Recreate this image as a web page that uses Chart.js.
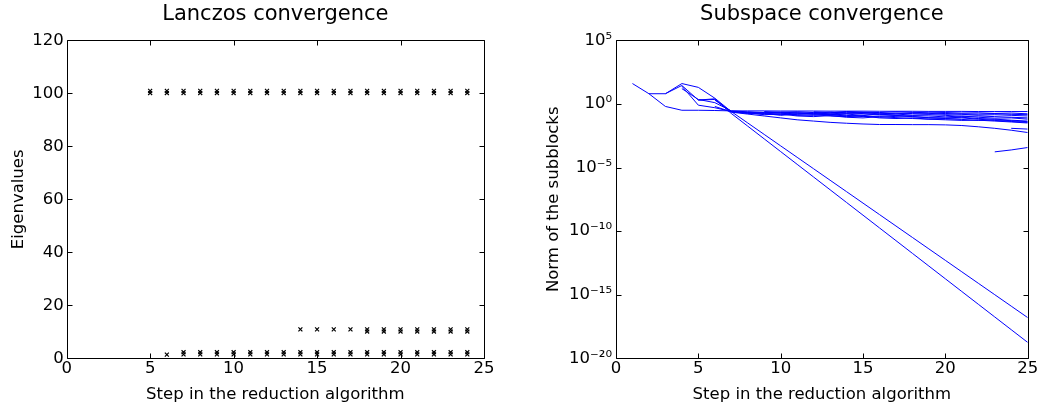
<!DOCTYPE html>
<html>
<head>
<meta charset="utf-8">
<script src="https://cdn.jsdelivr.net/npm/chart.js@4.4.1/dist/chart.umd.min.js"></script>
<style>
    html, body { margin: 0; padding: 0; background: #fff; }
    #wrap { position: relative; width: 1040px; height: 410px; }
    .panel { position: absolute; top: 0; width: 520px; height: 410px; }
</style>
</head>
<body>
<div id="wrap">
    <div class="panel" style="left:0"><canvas id="lanczos"></canvas></div>
    <div class="panel" style="left:520px"><canvas id="subspace"></canvas></div>
</div>
<script>
// --- left plot: eigenvalue estimates (x markers) ---
const highSteps = [5, 6, 7, 8, 9, 10, 11, 12, 13, 14, 15, 16, 17, 18, 19, 20, 21, 22, 23, 24];
const highEigA  = [100.1, 100.1, 100.1, 100.1, 100.1, 100.1, 100.1, 100.1, 100.1, 100.1, 100.1, 100.1, 100.1, 100.1, 100.1, 100.1, 100.1, 100.1, 100.1, 100.1];
const highEigB  = [100.9, 100.9, 100.9, 100.9, 100.9, 100.9, 100.9, 100.9, 100.9, 100.9, 100.9, 100.9, 100.9, 100.9, 100.9, 100.9, 100.9, 100.9, 100.9, 100.9];

const lowSteps = [6, 7, 8, 9, 10, 11, 12, 13, 14, 15, 16, 17, 18, 19, 20, 21, 22, 23, 24];
const lowEigA  = [1.4, 1.5, 1.5, 1.5, 1.5, 1.5, 1.5, 1.5, 1.5, 1.5, 1.5, 1.5, 1.5, 1.5, 1.5, 1.5, 1.5, 1.5, 1.5];
const lowEigB  = [null, 2.3, 2.3, 2.3, 2.3, 2.3, 2.3, 2.3, 2.3, 2.3, 2.3, 2.3, 2.3, 2.3, 2.3, 2.3, 2.3, 2.3, 2.3];

const midSteps = [14, 15, 16, 17, 18, 19, 20, 21, 22, 23, 24];
const midEigA  = [10.9, 10.9, 10.9, 10.9, 10.1, 10.1, 10.1, 10.1, 10.1, 10.1, 10.1];
const midEigB  = [null, null, null, null, 10.9, 10.9, 10.9, 10.9, 10.9, 10.9, 10.9];

const eigTicks = [0, 20, 40, 60, 80, 100, 120];
const stepTicks = [0, 5, 10, 15, 20, 25];

// --- right plot: norm of the subblocks, stored as log10 exponents, steps 1..25 ---
const steps = [1, 2, 3, 4, 5, 6, 7, 8, 9, 10, 11, 12, 13, 14, 15, 16, 17, 18, 19, 20, 21, 22, 23, 24, 25];
const normA = [1.6, 0.8, -0.2, -0.5, -0.5, -0.52, -0.55, -0.55, -0.55, -0.56, -0.56, -0.56, -0.57, -0.57, -0.57, -0.58, -0.58, -0.58, -0.59, -0.59, -0.59, -0.6, -0.6, -0.6, -0.6];
const normB = [null, 0.8, 0.8, 1.6, 1.3, 0.45, -0.6, -1.5, -2.4, -3.3, -4.2, -5.1, -6.0, -6.9, -7.8, -8.7, -9.6, -10.5, -11.4, -12.3, -13.2, -14.1, -15.0, -15.9, -16.8];
const normC = [null, null, 0.8, 1.45, 0.3, 0.4, -0.75, -1.75, -2.75, -3.75, -4.75, -5.75, -6.75, -7.75, -8.75, -9.75, -10.75, -11.75, -12.75, -13.75, -14.75, -15.75, -16.75, -17.75, -18.75];
const normD = [null, null, null, 1.4, -0.1, -0.3, -0.6, -0.72, -0.8, -0.78, -0.85, -0.9, -0.82, -0.9, -1.0, -0.95, -0.92, -1.0, -1.08, -1.1, -1.05, -1.15, -1.2, -1.28, -1.35];
const normE = [null, null, null, 1.2, 0.35, 0.1, -0.55, -0.62, -0.68, -0.7, -0.74, -0.7, -0.78, -0.72, -0.76, -0.84, -0.8, -0.88, -0.85, -0.9, -0.98, -0.95, -1.0, -1.05, -1.1];
const normF = [null, null, null, null, 0.3, 0.35, -0.65, -0.8, -0.95, -1.1, -1.25, -1.35, -1.45, -1.52, -1.58, -1.62, -1.62, -1.63, -1.63, -1.65, -1.7, -1.8, -1.92, -2.07, -2.25];
const normG = [null, null, null, null, null, 0.3, -0.6, -0.68, -0.75, -0.9, -0.8, -0.75, -0.85, -0.95, -0.88, -0.8, -0.9, -1.0, -1.1, -1.15, -1.1, -1.2, -1.3, -1.38, -1.45];
const normH = [null, null, null, null, null, -0.2, -0.62, -0.75, -0.7, -0.65, -0.7, -0.8, -0.72, -0.66, -0.7, -0.78, -0.72, -0.76, -0.8, -0.75, -0.82, -0.88, -0.85, -0.9, -0.95];
const normI = [null, null, null, null, null, null, -0.58, -0.7, -0.85, -0.8, -0.95, -1.0, -0.92, -1.05, -1.1, -1.0, -1.08, -1.15, -1.2, -1.25, -1.3, -1.28, -1.35, -1.42, -1.5];
const normJ = [null, null, null, null, null, null, null, -0.65, -0.72, -0.82, -0.7, -0.78, -0.88, -0.8, -0.9, -1.05, -0.98, -0.92, -0.95, -1.02, -0.95, -1.05, -1.12, -1.1, -1.2];
const normK = [null, null, null, null, null, null, null, null, -0.6, -0.66, -0.62, -0.68, -0.65, -0.75, -0.68, -0.72, -0.78, -0.7, -0.74, -0.82, -0.78, -0.8, -0.76, -0.82, -0.85];
const normL = [null, null, null, null, null, null, null, null, null, -0.7, -0.9, -0.85, -0.95, -1.0, -0.95, -1.1, -1.15, -1.1, -1.2, -1.18, -1.22, -1.3, -1.25, -1.32, -1.4];
const normM = [null, null, null, null, null, null, null, null, null, null, null, -0.62, -0.7, -0.6, -0.65, -0.68, -0.62, -0.66, -0.7, -0.68, -0.72, -0.7, -0.75, -0.72, -0.78];
const normN = [null, null, null, null, null, null, null, null, null, null, null, null, null, null, null, null, null, null, null, null, null, null, null, -1.92, -1.98];
const normO = [null, null, null, null, null, null, null, null, null, null, null, null, null, null, null, null, null, null, null, null, null, null, -3.77, -3.62, -3.43];
const normSeries = [normA, normB, normC, normD, normE, normF, normG, normH, normI, normJ, normK, normL, normM, normN, normO];

const normTickExps = [-20, -15, -10, -5, 0, 5];

// --- helpers ---
const FONT = 'DejaVu Sans';
const SUP = { '-': '\u207B', '0': '\u2070', '1': '\u00B9', '2': '\u00B2', '3': '\u00B3', '4': '\u2074', '5': '\u2075', '6': '\u2076', '7': '\u2077', '8': '\u2078', '9': '\u2079' };
const sup = n => String(n).split('').map(c => SUP[c]).join('');

const toPoints = (xs, ys) => xs.map((x, i) => ({ x, y: ys[i] })).filter(p => p.y !== null);
const toLogPoints = ys => steps.map((x, i) => ({ x, y: ys[i] === null ? null : Math.pow(10, ys[i]) })).filter(p => p.y !== null);

// MATLAB style box with inward ticks
const boxTicks = {
    id: 'boxTicks',
    afterDraw(chart) {
        const { ctx, chartArea: a, scales } = chart;
        const len = 5;
        const L = Math.round(a.left) + 0.5, R = Math.round(a.right) + 0.5;
        const T = Math.round(a.top) + 0.5, B = Math.round(a.bottom) + 0.5;
        ctx.save();
        ctx.strokeStyle = '#000';
        ctx.lineWidth = 1;
        ctx.beginPath();
        ctx.rect(L, T, R - L, B - T);
        scales.x.ticks.forEach(t => {
            const px = Math.round(scales.x.getPixelForValue(t.value)) + 0.5;
            ctx.moveTo(px, B); ctx.lineTo(px, B - len);
            ctx.moveTo(px, T); ctx.lineTo(px, T + len);
        });
        scales.y.ticks.forEach(t => {
            const py = Math.round(scales.y.getPixelForValue(t.value)) + 0.5;
            ctx.moveTo(L, py); ctx.lineTo(L + len, py);
            ctx.moveTo(R, py); ctx.lineTo(R - len, py);
        });
        ctx.stroke();
        ctx.restore();
    }
};

function xAxis() {
    return {
        type: 'linear',
        min: 0, max: 25,
        afterBuildTicks: s => { s.ticks = stepTicks.map(v => ({ value: v })); },
        grid: { drawOnChartArea: false, drawTicks: false },
        border: { display: false },
        ticks: { color: '#000', padding: 1, autoSkip: false, maxRotation: 0, font: { family: FONT, size: 16.5 } },
        title: { display: true, text: 'Step in the reduction algorithm', color: '#000', padding: { top: 0, bottom: 5.5 }, font: { family: FONT, size: 16.5 } },
        afterFit: s => { s.height = 51.7; }
    };
}

function titleOpts(text) {
    return {
        display: true, text, color: '#000', fullSize: false,
        font: { family: FONT, size: 21, weight: 'normal' },
        padding: { top: 2, bottom: 13.1 }
    };
}

Chart.defaults.font.family = FONT;

// left chart
const markerStyle = { type: 'scatter', pointStyle: 'crossRot', pointRadius: 2.8, pointBorderWidth: 1.2, borderColor: '#000', backgroundColor: '#000' };
new Chart(document.getElementById('lanczos'), {
    type: 'scatter',
    data: {
        datasets: [
            { ...markerStyle, data: toPoints(highSteps, highEigA) },
            { ...markerStyle, data: toPoints(highSteps, highEigB) },
            { ...markerStyle, data: toPoints(lowSteps, lowEigA) },
            { ...markerStyle, data: toPoints(lowSteps, lowEigB) },
            { ...markerStyle, data: toPoints(midSteps, midEigA) },
            { ...markerStyle, data: toPoints(midSteps, midEigB) }
        ]
    },
    options: {
        responsive: true, maintainAspectRatio: false, animation: false,
        layout: { padding: { left: 0, right: 36, top: 0, bottom: 0 } },
        plugins: { legend: { display: false }, tooltip: { enabled: false }, title: titleOpts('Lanczos convergence') },
        scales: {
            x: xAxis(),
            y: {
                type: 'linear', min: 0, max: 120,
                afterBuildTicks: s => { s.ticks = eigTicks.map(v => ({ value: v })); },
                grid: { drawOnChartArea: false, drawTicks: false },
                border: { display: false },
                ticks: { color: '#000', padding: 3, autoSkip: false, font: { family: FONT, size: 16.5 } },
                title: { display: true, text: 'Eigenvalues', color: '#000', padding: { top: 9.2, bottom: 0 }, font: { family: FONT, size: 16.5 } },
                afterFit: s => { s.width = 66.7; }
            }
        }
    },
    plugins: [boxTicks]
});

// right chart
new Chart(document.getElementById('subspace'), {
    type: 'scatter',
    data: {
        datasets: normSeries.map(ser => ({
            data: toLogPoints(ser),
            showLine: true, pointRadius: 0, borderWidth: 1, borderColor: '#0000ff', tension: 0
        }))
    },
    options: {
        responsive: true, maintainAspectRatio: false, animation: false,
        layout: { padding: { left: 0, right: 12.3, top: 0, bottom: 0 } },
        plugins: { legend: { display: false }, tooltip: { enabled: false }, title: titleOpts('Subspace convergence') },
        scales: {
            x: xAxis(),
            y: {
                type: 'logarithmic', min: 1e-20, max: 1e5,
                afterBuildTicks: s => { s.ticks = normTickExps.map(e => ({ value: Math.pow(10, e) })); },
                grid: { drawOnChartArea: false, drawTicks: false },
                border: { display: false },
                ticks: {
                    color: '#000', padding: 4, autoSkip: false, font: { family: FONT, size: 16.5 },
                    callback: v => '10' + sup(Math.round(Math.log10(v)))
                },
                title: { display: true, text: 'Norm of the subblocks', color: '#000', padding: { top: 24.2, bottom: 0 }, font: { family: FONT, size: 16.5 } },
                afterFit: s => { s.width = 96; }
            }
        }
    },
    plugins: [boxTicks]
});
</script>
</body>
</html>
